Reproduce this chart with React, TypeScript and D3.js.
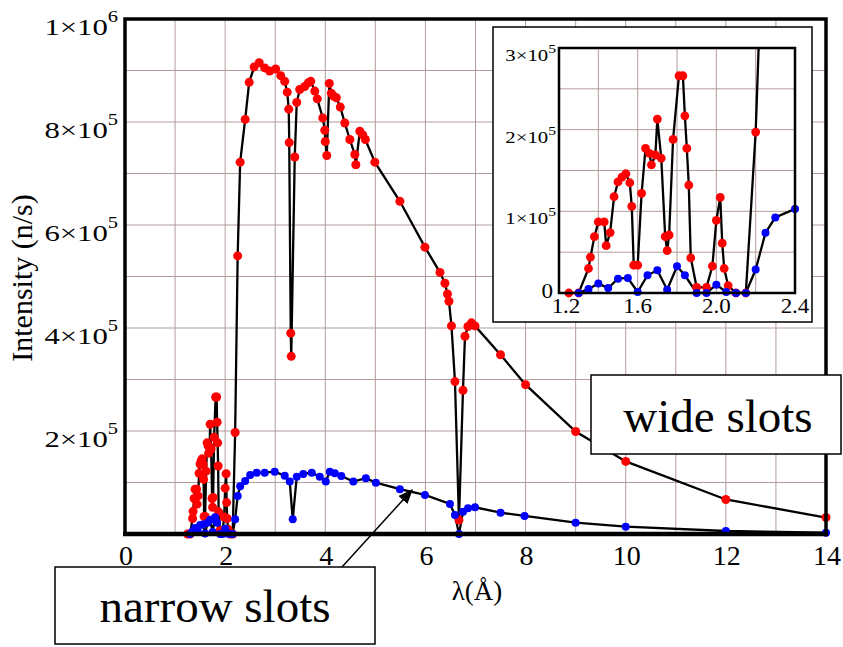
import React from 'react';
import * as d3 from 'd3';

// wide slots (red)
const wideX = [
  1.25, 1.30, 1.35, 1.36, 1.38, 1.40, 1.43, 1.44, 1.46, 1.48, 1.50, 1.52, 1.54, 1.56, 1.57, 1.58,
  1.60, 1.62, 1.64, 1.66, 1.67, 1.69, 1.70, 1.72, 1.74, 1.75, 1.76, 1.78, 1.81, 1.83, 1.84, 1.85,
  1.86, 1.87, 1.90, 1.95, 1.98, 2.00, 2.02, 2.03, 2.04, 2.06, 2.10, 2.15, 2.20, 2.25, 2.30, 2.40,
  2.48, 2.58, 2.68, 2.79, 2.89, 3.01, 3.11, 3.19, 3.24, 3.27, 3.28, 3.31, 3.32, 3.39, 3.43, 3.49,
  3.59, 3.66, 3.71, 3.79, 3.84, 3.95, 3.99, 4.00, 4.03, 4.08, 4.12, 4.17, 4.22, 4.30, 4.39, 4.49,
  4.59, 4.61, 4.69, 4.75, 4.80, 4.99, 5.49, 5.99, 6.29, 6.39, 6.44, 6.47, 6.52, 6.59, 6.67, 6.75,
  6.79, 6.85, 6.92, 6.99, 7.50, 8.00, 9.00, 10.0, 12.0, 14.0,
];
const wideY = [
  0, 0, 30000, 44000, 69000, 87000, 87000, 58000, 74000, 118000, 136000, 142000, 146000, 135000, 106000, 34000,
  34000, 122000, 177000, 171000, 157000, 169000, 213000, 165000, 69000, 52000, 71000, 188000, 266000, 266000, 217000, 177000,
  132000, 43000, 7000, 7000, 33000, 89000, 117000, 61000, 30000, 9000, 0, 0, 197000, 540000, 722000, 805000,
  877000, 907000, 915000, 905000, 899000, 903000, 890000, 879000, 858000, 825000, 760000, 390000, 345000, 732000, 838000, 863000,
  869000, 876000, 879000, 860000, 845000, 808000, 784000, 762000, 735000, 875000, 856000, 850000, 847000, 829000, 798000, 766000,
  737000, 717000, 782000, 775000, 766000, 722000, 646000, 557000, 508000, 487000, 466000, 452000, 404000, 296000, 27000, 279000,
  384000, 403000, 410000, 404000, 348000, 290000, 199000, 141000, 67000, 32000,
];

// narrow slots (blue)
const narrowX = [
  1.30, 1.35, 1.40, 1.45, 1.50, 1.55, 1.60, 1.65, 1.70, 1.75, 1.80, 1.84, 1.90, 1.95, 2.00, 2.05,
  2.10, 2.15, 2.20, 2.25, 2.30, 2.40, 2.50, 2.63, 2.79, 2.99, 3.19, 3.29, 3.35, 3.43, 3.56, 3.73,
  3.89, 4.01, 4.09, 4.19, 4.32, 4.56, 4.81, 5.01, 5.49, 5.99, 6.49, 6.59, 6.67, 6.75, 6.85, 6.99,
  7.50, 7.98, 9.00, 10.0, 12.0, 14.0,
];
const narrowY = [
  0, 5000, 11500, 6000, 17600, 18400, 1200, 21700, 27800, 4100, 32700, 21700, 0, 0, 10200, 1200,
  0, 0, 28700, 73700, 92500, 103000, 114700, 119000, 119000, 121000, 113000, 102000, 28600, 111000, 116600, 119000,
  111000, 102000, 121000, 118000, 112700, 101700, 108300, 99700, 87000, 75800, 58300, 36900, 0, 43300, 50000, 51900,
  41400, 35000, 22000, 14200, 5800, 2500,
];

const xTicks = [0, 2, 4, 6, 8, 10, 12, 14];
const yTicks = [2e5, 4e5, 6e5, 8e5, 1e6];
const yTickMant = ['2', '4', '6', '8', '1'];
const yTickExp = ['5', '5', '5', '5', '6'];
const insetXTicks = [1.2, 1.6, 2.0, 2.4];
const insetXLabels = ['1.2', '1.6', '2.0', '2.4'];
const insetYTicks = [1e5, 2e5, 3e5];
const insetYMant = ['1', '2', '3'];

const FONT = "'Liberation Serif', 'Times New Roman', Times, serif";
const GRID = '#b59c9c';

function App() {
  const x = d3.scaleLinear().domain([0, 14]).range([125, 826]);
  const y = d3.scaleLinear().domain([0, 1e6]).range([534, 19]);
  const ix = d3.scaleLinear().domain([1.2, 2.4]).range([559, 795]);
  const iy = d3.scaleLinear().domain([0, 3e5]).range([293, 48]);

  const wide = wideX.map((v, i) => [v, wideY[i]] as [number, number]);
  const narrow = narrowX.map((v, i) => [v, narrowY[i]] as [number, number]);

  const mainLine = d3.line<[number, number]>().x(d => x(d[0])).y(d => y(d[1]));
  const insetLine = d3.line<[number, number]>().x(d => ix(d[0])).y(d => iy(d[1]));

  const inInset = (d: [number, number]) => d[0] >= 1.2 && d[0] <= 2.4 && d[1] <= 3e5;

  return (
    <svg width={843} height={647}
      style={{ position: 'absolute', left: 0, top: 0, background: '#fff', fontFamily: FONT }}>
      <defs>
        <clipPath id="insetClip">
          <rect x={ix(1.2)} y={iy(3e5)} width={ix(2.4) - ix(1.2)} height={iy(0) - iy(3e5)} />
        </clipPath>
        <marker id="arrow" viewBox="0 0 10 10" refX="9" refY="5" markerWidth="15" markerHeight="15"
          markerUnits="userSpaceOnUse" orient="auto">
          <path d="M0,1 L10,5 L0,9 z" fill="#000" />
        </marker>
      </defs>

      {/* main grid */}
      {d3.range(1, 14).map(k => (
        <line key={'gx' + k} x1={x(k)} x2={x(k)} y1={y(0)} y2={y(1e6)} stroke={GRID} strokeWidth={1} />
      ))}
      {d3.range(1, 10).map(k => (
        <line key={'gy' + k} x1={x(0)} x2={x(14)} y1={y(k * 1e5)} y2={y(k * 1e5)} stroke={GRID} strokeWidth={1} />
      ))}

      {/* main series */}
      <path d={mainLine(wide) || ''} fill="none" stroke="#000" strokeWidth={2.3} />
      <path d={mainLine(narrow) || ''} fill="none" stroke="#000" strokeWidth={2.3} />
      {wide.map((d, i) => <circle key={'w' + i} cx={x(d[0])} cy={y(d[1])} r={4.5} fill="#f00" />)}
      {narrow.map((d, i) => <circle key={'n' + i} cx={x(d[0])} cy={y(d[1])} r={4} fill="#00f" />)}

      {/* main frame */}
      <rect x={x(0)} y={y(1e6)} width={x(14) - x(0)} height={y(0) - y(1e6)} fill="none" stroke="#000" strokeWidth={3.5} />
      <line x1={x(0) - 2} x2={x(14) + 2} y1={y(0)} y2={y(0)} stroke="#000" strokeWidth={4.5} />

      {/* main tick labels */}
      {xTicks.map(t => (
        <text key={'xt' + t} x={x(t) + 1} y={565} textAnchor="middle" fontSize={28}>{t}</text>
      ))}
      {yTicks.map((t, i) => (
        <text key={'yt' + t} transform={`translate(118,${y(t) + 16}) scale(1.28,1)`} textAnchor="end" fontSize={24}>
          {yTickMant[i]}×10<tspan dy={-13} fontSize={16}>{yTickExp[i]}</tspan>
        </text>
      ))}
      <text x={477} y={600} textAnchor="middle" fontSize={27}>λ(Å)</text>
      <text transform="translate(32,278) rotate(-90)" textAnchor="middle" fontSize={30}>Intensity (n/s)</text>

      {/* inset */}
      <rect x={493} y={27} width={319} height={295} fill="#fff" stroke="#000" strokeWidth={1.5} />
      {[1.4, 1.6, 1.8, 2.0, 2.2].map(k => (
        <line key={'igx' + k} x1={ix(k)} x2={ix(k)} y1={iy(0)} y2={iy(3e5)} stroke={GRID} strokeWidth={1} />
      ))}
      {[0.5e5, 1e5, 1.5e5, 2e5, 2.5e5].map(k => (
        <line key={'igy' + k} x1={ix(1.2)} x2={ix(2.4)} y1={iy(k)} y2={iy(k)} stroke={GRID} strokeWidth={1} />
      ))}
      <g clipPath="url(#insetClip)">
        <path d={insetLine(wide) || ''} fill="none" stroke="#000" strokeWidth={2.3} />
        <path d={insetLine(narrow) || ''} fill="none" stroke="#000" strokeWidth={2.3} />
      </g>
      {wide.filter(inInset).map((d, i) => <circle key={'iw' + i} cx={ix(d[0])} cy={iy(d[1])} r={4.4} fill="#f00" />)}
      {narrow.filter(inInset).map((d, i) => <circle key={'in' + i} cx={ix(d[0])} cy={iy(d[1])} r={4} fill="#00f" />)}
      <rect x={ix(1.2)} y={iy(3e5)} width={ix(2.4) - ix(1.2)} height={iy(0) - iy(3e5)} fill="none" stroke="#000" strokeWidth={2.5} />
      {insetXTicks.map((t, i) => (
        <text key={'ixt' + t} transform={`translate(${i === 0 ? ix(t) + 7 : ix(t)},313) scale(1.15,1)`}
          textAnchor="middle" fontSize={20}>{insetXLabels[i]}</text>
      ))}
      <text transform="translate(553,298) scale(1.15,1)" textAnchor="end" fontSize={20}>0</text>
      {insetYTicks.map((t, i) => (
        <text key={'iyt' + t} transform={`translate(556,${iy(t) + 13}) scale(1.3,1)`} textAnchor="end" fontSize={16}>
          {insetYMant[i]}×10<tspan dy={-8} fontSize={12}>5</tspan>
        </text>
      ))}

      {/* annotations */}
      <rect x={591} y={375} width={250} height={79} fill="#fff" stroke="#000" strokeWidth={1.5} />
      <text x={718} y={432} textAnchor="middle" fontSize={47}>wide slots</text>
      <line x1={342} y1={567} x2={412} y2={490} stroke="#000" strokeWidth={1.5} markerEnd="url(#arrow)" />
      <rect x={55} y={567} width={320} height={77} fill="#fff" stroke="#000" strokeWidth={1.5} />
      <text x={215} y={622} textAnchor="middle" fontSize={47}>narrow slots</text>
    </svg>
  );
}

export default App;
